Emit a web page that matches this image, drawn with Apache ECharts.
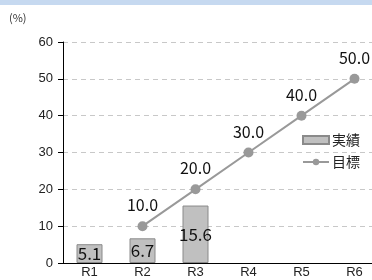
<!DOCTYPE html>
<html>
<head>
<meta charset="utf-8">
<script src="https://cdn.jsdelivr.net/npm/echarts@6/dist/echarts.min.js"></script>
<style>
html, body { margin: 0; padding: 0; background: #fff; }
#chart { width: 372px; height: 280px; }
</style>
</head>
<body>
<div id="chart"></div>
<script>
const categories = ['R1', 'R2', 'R3', 'R4', 'R5', 'R6'];
const actual = [5.1, 6.7, 15.6, null, null, null];
const target = [null, 10.0, 20.0, 30.0, 40.0, 50.0];
const yTicks = [0, 10, 20, 30, 40, 50, 60];

const font = '"Noto Sans CJK JP", "Noto Sans", sans-serif';
const axisFont = '"Liberation Sans", Arial, sans-serif';
const myChart = echarts.init(document.getElementById('chart'));
myChart.setOption({
  animation: false,
  textStyle: { fontFamily: font },
  graphic: [
    { type: 'rect', left: 0, top: 0, shape: { width: 372, height: 5 }, style: { fill: '#c6d9f0' } },
    { type: 'text', left: 9, top: 12, style: { text: '(%)', font: '11px ' + font, fill: '#333' } }
  ],
  grid: { left: 63, width: 318, top: 42, bottom: 17, outerBoundsMode: 'none', containLabel: false },
  legend: {
    orient: 'vertical',
    left: 297,
    top: 128,
    itemWidth: 26,
    itemHeight: 8,
    itemGap: 8,
    textStyle: { fontSize: 14, color: '#222', padding: [0, 0, 0, -2] },
    data: [
      { name: '実績', icon: 'rect' },
      { name: '目標' }
    ]
  },
  xAxis: {
    type: 'category',
    data: categories,
    axisLine: { lineStyle: { color: '#000', width: 1 } },
    axisTick: { show: false },
    axisLabel: { color: '#222', fontSize: 13, margin: 3, fontFamily: axisFont }
  },
  yAxis: {
    type: 'value',
    min: yTicks[0],
    max: yTicks[yTicks.length - 1],
    interval: 10,
    axisLine: { show: true, lineStyle: { color: '#000' } },
    axisTick: { show: true, inside: false, length: 5, lineStyle: { color: '#000' } },
    axisLabel: { color: '#222', fontSize: 13, margin: 10, fontFamily: axisFont },
    splitLine: { lineStyle: { color: '#c8c8c8', type: [5, 4] } }
  },
  series: [
    {
      name: '実績',
      type: 'bar',
      data: actual,
      barWidth: 26,
      itemStyle: { color: '#c0c0c0', borderColor: '#8a8a8a', borderWidth: 1 },
      label: { show: true, position: 'inside', fontSize: 17, color: '#111', formatter: (p) => p.value.toFixed(1) }
    },
    {
      name: '目標',
      type: 'line',
      data: target,
      connectNulls: false,
      symbol: 'circle',
      symbolSize: 10,
      lineStyle: { color: '#999', width: 2 },
      itemStyle: { color: '#999' },
      label: { show: true, position: 'top', distance: 8, fontSize: 16, color: '#111', formatter: (p) => p.value.toFixed(1) }
    }
  ]
});
</script>
</body>
</html>
